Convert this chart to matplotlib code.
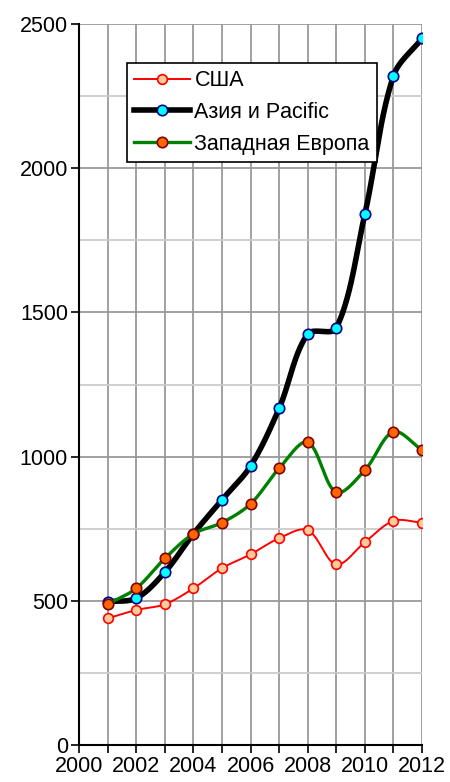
import numpy as np
import matplotlib
matplotlib.use("Agg")
import matplotlib.pyplot as plt
from matplotlib.lines import Line2D

plt.rcParams['font.family'] = ['Liberation Sans', 'DejaVu Sans']

years = [2001, 2002, 2003, 2004, 2005, 2006, 2007, 2008, 2009, 2010, 2011, 2012]
usa = [439, 468, 488, 543, 613, 661, 717, 745, 626, 703, 777, 771]
asia = [497, 509, 599, 732, 850, 967, 1167, 1425, 1445, 1841, 2320, 2450]
europe = [488, 543, 647, 732, 771, 836, 959, 1050, 876, 953, 1086, 1023]
labels = ['США', 'Азия и Pacific', 'Западная Европа']


def smooth(ax, x, y, n=40):
    """Smoothed line like a spreadsheet's: cubic Bezier segments built in pixel space."""
    P = ax.transData.transform(np.column_stack([x, y]))
    P = np.vstack([P[0], P, P[-1]])
    t = np.linspace(0, 1, n)[:, None]
    out = []
    for i in range(1, len(P) - 2):
        p0, p1, p2, p3 = P[i - 1], P[i], P[i + 1], P[i + 2]
        d01 = np.linalg.norm(p1 - p0)
        d12 = np.linalg.norm(p2 - p1)
        d23 = np.linalg.norm(p3 - p2)
        f1 = d12 / (d01 + d12) / 3 if d01 + d12 > 0 else 0
        f2 = d12 / (d12 + d23) / 3 if d12 + d23 > 0 else 0
        c1 = p1 + (p2 - p0) * f1
        c2 = p2 - (p3 - p1) * f2
        b = (1 - t) ** 3 * p1 + 3 * (1 - t) ** 2 * t * c1 + 3 * (1 - t) * t ** 2 * c2 + t ** 3 * p2
        out.append(b)
    out = np.vstack(out)
    D = ax.transData.inverted().transform(out)
    return D[:, 0], D[:, 1]


fig = plt.figure(figsize=(4.5, 7.82), dpi=100)
ax = fig.add_axes([0.1756, 0.0473, 0.7622, 0.922])
ax.set_xlim(2000, 2012)
ax.set_ylim(0, 2500)

styles = [
    dict(color='#ff0000', lw=1.4, mfc='#ffcc99', mec='#ff0000', ms=7),
    dict(color='#000000', lw=4.0, mfc='#00ffff', mec='#000080', ms=7.5),
    dict(color='#008000', lw=2.4, mfc='#ff6600', mec='#800000', ms=7.5),
]
series = [usa, asia, europe]
handles = []
for i, (vals, st) in enumerate(zip(series, styles)):
    sx, sy = smooth(ax, years, vals)
    ax.plot(sx, sy, color=st['color'], lw=st['lw'], zorder=3 + i, solid_capstyle='round')
    ax.plot(years, vals, ls='none', marker='o', ms=st['ms'], mfc=st['mfc'],
            mec=st['mec'], mew=1.2, zorder=3 + i)
    handles.append(Line2D([0], [0], color=st['color'], lw=st['lw'], marker='o',
                          ms=st['ms'], mfc=st['mfc'], mec=st['mec'], mew=1.2))

ax.set_xticks(range(2000, 2013, 2))
ax.set_xticks(range(2000, 2013), minor=True)
ax.set_yticks(range(0, 2501, 500))
ax.set_yticks(range(0, 2501, 250), minor=True)

ax.grid(True, which='major', color='#999999', lw=1.3, zorder=0)
ax.grid(True, which='minor', axis='x', color='#999999', lw=1.3, zorder=0)
ax.grid(True, which='minor', axis='y', color='#cccccc', lw=1.3, zorder=0)
ax.set_axisbelow(True)

for s in ['top', 'right']:
    ax.spines[s].set_visible(False)
for s in ['left', 'bottom']:
    ax.spines[s].set_color('black')
    ax.spines[s].set_linewidth(1.5)
    ax.spines[s].set_zorder(10)

ax.tick_params(axis='both', which='major', direction='out', length=6, width=1.2,
               labelsize=15.5, color='black', pad=2)
ax.tick_params(axis='x', which='minor', direction='out', length=6, width=1.2, color='black')
ax.tick_params(axis='y', which='minor', length=0)

leg = ax.legend(handles, labels, loc='upper left', bbox_to_anchor=(0.14, 0.946),
                fontsize=15.5, frameon=True, fancybox=False, framealpha=1,
                edgecolor='black', handlelength=2.6, handletextpad=0.2,
                borderpad=0.33, labelspacing=0.5, borderaxespad=0)
leg.get_frame().set_linewidth(1.2)
leg.set_zorder(20)

fig.savefig('out.png', dpi=100)
